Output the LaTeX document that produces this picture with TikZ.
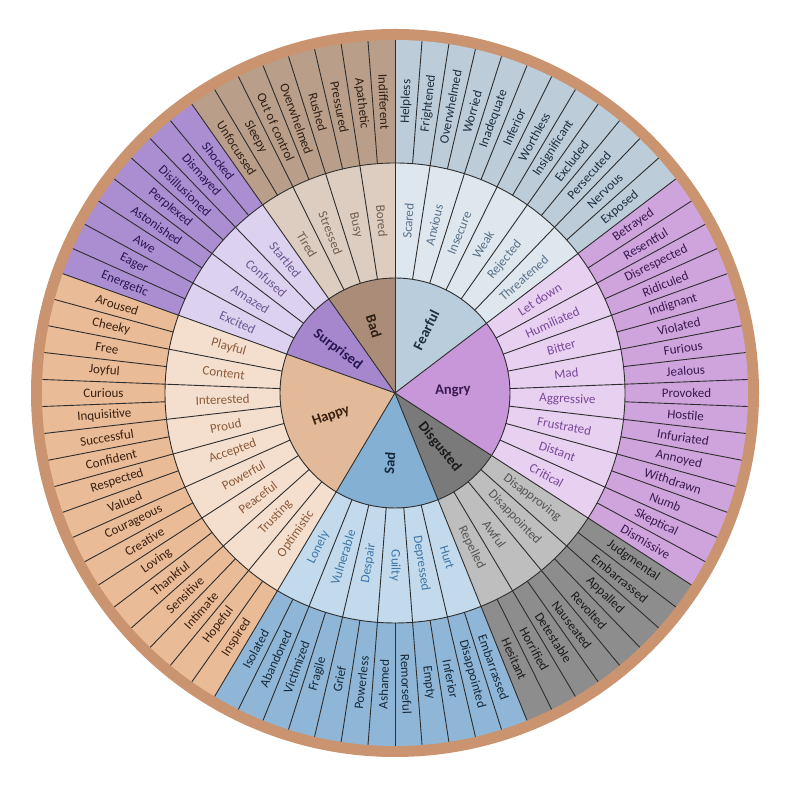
\documentclass[tikz,border=0pt]{standalone}
\usepackage{fontspec}
\setmainfont{Carlito}
\definecolor{rim}{HTML}{C9946F}
\definecolor{badO}{HTML}{B99F8A}\definecolor{badM}{HTML}{DDCDC0}\definecolor{badC}{HTML}{AA8C78}
\definecolor{feaO}{HTML}{BCCCD9}\definecolor{feaM}{HTML}{DEE7EE}\definecolor{feaC}{HTML}{B9CDDC}
\definecolor{angO}{HTML}{CFA4DD}\definecolor{angM}{HTML}{E7D0F0}\definecolor{angC}{HTML}{C897D9}
\definecolor{disO}{HTML}{8D8D8D}\definecolor{disM}{HTML}{BEBEBE}\definecolor{disC}{HTML}{7A7A7A}
\definecolor{sadO}{HTML}{8FB6D6}\definecolor{sadM}{HTML}{C2DAEC}\definecolor{sadC}{HTML}{84B0D4}
\definecolor{hapO}{HTML}{E9BB96}\definecolor{hapM}{HTML}{F4DFCF}\definecolor{hapC}{HTML}{E2B999}
\definecolor{surO}{HTML}{AB8DD2}\definecolor{surM}{HTML}{DDD1F0}\definecolor{surC}{HTML}{A687CE}
\definecolor{badT}{HTML}{2E1E14}\definecolor{badMT}{HTML}{6E5E52}
\definecolor{feaT}{HTML}{1E2E3E}\definecolor{feaMT}{HTML}{58728A}
\definecolor{angT}{HTML}{3A1850}\definecolor{angMT}{HTML}{7A489A}
\definecolor{disT}{HTML}{1A1A1A}\definecolor{disMT}{HTML}{555555}
\definecolor{sadT}{HTML}{16293A}\definecolor{sadMT}{HTML}{3D76A6}
\definecolor{hapT}{HTML}{3A2010}\definecolor{hapMT}{HTML}{8C5A38}
\definecolor{surT}{HTML}{2A1650}\definecolor{surMT}{HTML}{6A5890}
\def\wdeg{4.3902439}
\newcommand{\wsector}[4]{%
  \pgfmathsetmacro{\sa}{90-#1*\wdeg}%
  \pgfmathsetmacro{\sb}{90-#2*\wdeg}%
  \fill[#4] (0,0) -- (\sa:#3) arc[start angle=\sa, end angle=\sb, radius=#3] -- cycle;}
\newcommand{\wring}[6]{%
  \foreach \w [count=\j from 0] in {#6} {%
    \pgfmathsetmacro{\am}{90-(#1+(\j+0.5)*#2)*\wdeg}%
    \pgfmathsetmacro{\rt}{cos(\am)<0 ? \am+180 : \am}%
    \node[#4, rotate=\rt] (#5\j) at (\am:#3) {\w};}}
\begin{document}
\begin{tikzpicture}[x=1pt,y=1pt,
  divline/.style={draw=black!82, line width=0.9pt},
  otext/.style={font=\fontsize{13}{13}\selectfont, inner sep=0pt},
  ctext/.style={font=\fontsize{14.5}{14.5}\selectfont\bfseries, inner sep=0pt}]
\useasboundingbox (0,0) rectangle (800,786);
\begin{scope}[shift={(395,393)}]
\fill[rim] (0,0) circle[radius=364];
% outer ring
\wsector{0}{12}{353}{feaO}
\wsector{12}{28}{353}{angO}
\wsector{28}{36}{353}{disO}
\wsector{36}{48}{353}{sadO}
\wsector{48}{66}{353}{hapO}
\wsector{66}{74}{353}{surO}
\wsector{74}{82}{353}{badO}
% middle ring
\wsector{0}{12}{230}{feaM}
\wsector{12}{28}{230}{angM}
\wsector{28}{36}{230}{disM}
\wsector{36}{48}{230}{sadM}
\wsector{48}{66}{230}{hapM}
\wsector{66}{74}{230}{surM}
\wsector{74}{82}{230}{badM}
% core
\wsector{0}{12}{115}{feaC}
\wsector{12}{28}{115}{angC}
\wsector{28}{36}{115}{disC}
\wsector{36}{48}{115}{sadC}
\wsector{48}{66}{115}{hapC}
\wsector{66}{74}{115}{surC}
\wsector{74}{82}{115}{badC}
% dividers
\foreach \k in {0,...,81} \draw[divline] ({90-\k*\wdeg}:230) -- ({90-\k*\wdeg}:353);
\foreach \k in {0,2,...,80} \draw[divline] ({90-\k*\wdeg}:115) -- ({90-\k*\wdeg}:230);
\foreach \k in {0,12,28,36,48,66,74} \draw[divline] (0,0) -- ({90-\k*\wdeg}:115);
\draw[divline] (0,0) circle[radius=230];
\draw[divline] (0,0) circle[radius=115];
% outer texts
\wring{0}{1}{291.5}{otext,text=feaT}{oF}{Helpless,Frightened,Overwhelmed,Worried,Inadequate,Inferior,Worthless,Insignificant,Excluded,Persecuted,Nervous,Exposed}
\wring{12}{1}{291.5}{otext,text=angT}{oA}{Betrayed,Resentful,Disrespected,Ridiculed,Indignant,Violated,Furious,Jealous,Provoked,Hostile,Infuriated,Annoyed,Withdrawn,Numb,Skeptical,Dismissive}
\wring{28}{1}{291.5}{otext,text=disT}{oD}{Judgmental,Embarrassed,Appalled,Revolted,Nauseated,Detestable,Horrified,Hesitant}
\wring{36}{1}{291.5}{otext,text=sadT}{oS}{Embarrassed,Disappointed,Inferior,Empty,Remorseful,Ashamed,Powerless,Grief,Fragile,Victimized,Abandoned,Isolated}
\wring{48}{1}{291.5}{otext,text=hapT}{oH}{Inspired,Hopeful,Intimate,Sensitive,Thankful,Loving,Creative,Courageous,Valued,Respected,Confident,Successful,Inquisitive,Curious,Joyful,Free,Cheeky,Aroused}
\wring{66}{1}{291.5}{otext,text=surT}{oU}{Energetic,Eager,Awe,Astonished,Perplexed,Disillusioned,Dismayed,Shocked}
\wring{74}{1}{291.5}{otext,text=badT}{oB}{Unfocussed,Sleepy,Out of control,Overwhelmed,Rushed,Pressured,Apathetic,Indifferent}
% middle texts
\wring{0}{2}{172.5}{otext,text=feaMT}{mF}{Scared,Anxious,Insecure,Weak,Rejected,Threatened}
\wring{12}{2}{172.5}{otext,text=angMT}{mA}{Let down,Humiliated,Bitter,Mad,Aggressive,Frustrated,Distant,Critical}
\wring{28}{2}{172.5}{otext,text=disMT}{mD}{Disapproving,Disappointed,Awful,Repelled}
\wring{36}{2}{172.5}{otext,text=sadMT}{mS}{Hurt,Depressed,Guilty,Despair,Vulnerable,Lonely}
\wring{48}{2}{172.5}{otext,text=hapMT}{mH}{Optimistic,Trusting,Peaceful,Powerful,Accepted,Proud,Interested,Content,Playful}
\wring{66}{2}{172.5}{otext,text=surMT}{mU}{Excited,Amazed,Confused,Startled}
\wring{74}{2}{172.5}{otext,text=badMT}{mB}{Tired,Stressed,Busy,Bored}
% core texts
\node[ctext,text=feaT,rotate=63.66] (cF) at (63.66:70) {Fearful};
\node[ctext,text=angT,rotate=2.20] (cA) at (2.20:58) {Angry};
\node[ctext,text=disT,rotate=-50.49] (cD) at (-50.49:70) {Disgusted};
\node[ctext,text=sadT,rotate=85.61] (cS) at (-94.39:70) {Sad};
\node[ctext,text=hapT,rotate=19.76] (cH) at (-160.24:68) {Happy};
\node[ctext,text=surT,rotate=-37.32] (cU) at (142.68:72) {Surprised};
\node[ctext,text=badT,rotate=-72.44] (cB) at (107.56:70) {Bad};
\end{scope}
\end{tikzpicture}
\end{document}
